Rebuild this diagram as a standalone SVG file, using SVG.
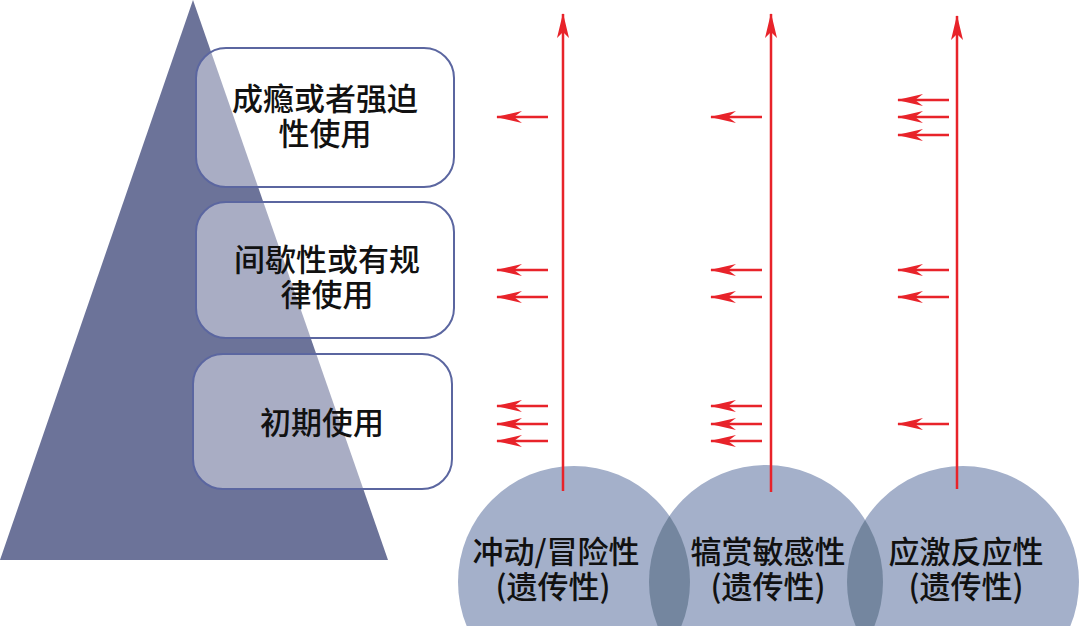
<svg xmlns="http://www.w3.org/2000/svg" width="1080" height="626" viewBox="0 0 1080 626">
<style>
.box{fill:#ffffff;fill-opacity:0.42;stroke:#5b66a0;stroke-width:2}
.circ{fill:#a4b0ca}
.lens{fill:#74869f}
.t{font-family:"Noto Sans CJK SC","Noto Sans",sans-serif;font-size:31px;fill:#111;text-anchor:middle;font-weight:500}
.up{stroke:#e8232a;stroke-width:2.5;fill:none}
.sm{stroke:#e8232a;stroke-width:2.5;fill:none}
</style>
<defs>
<marker id="ah" viewBox="0 0 25 12" refX="24" refY="6" markerWidth="25" markerHeight="12" markerUnits="userSpaceOnUse" orient="auto">
<path d="M0,0 L25,6 L0,12 L6,6 Z" fill="#e8232a"/>
</marker>
<marker id="ahs" viewBox="0 0 26 12" refX="25" refY="6" markerWidth="26" markerHeight="12" markerUnits="userSpaceOnUse" orient="auto">
<path d="M0,0 L26,6 L0,12 L8,6 Z" fill="#e8232a"/>
</marker>
<clipPath id="c1"><circle cx="574" cy="582" r="116"/></clipPath>
<clipPath id="c2"><circle cx="766" cy="582" r="117"/></clipPath>
</defs>
<polygon id="pyramid" points="193,0 388,560 0,560" fill="#6c7399"/>
<g id="box1"><rect class="box" x="196" y="48" width="258" height="139" rx="30"/>
<text class="t" x="325" y="110">成瘾或者强迫</text><text class="t" x="325" y="145">性使用</text></g>
<g id="box2"><rect class="box" x="196" y="202" width="258" height="136" rx="30"/>
<text class="t" x="327" y="271">间歇性或有规</text><text class="t" x="327" y="306">律使用</text></g>
<g id="box3"><rect class="box" x="193" y="354" width="259" height="135" rx="30"/>
<text class="t" x="322" y="434">初期使用</text></g>
<g id="circle1"><circle class="circ" cx="574" cy="582" r="116"/></g>
<g id="circle2"><circle class="circ" cx="766" cy="582" r="117"/></g>
<g id="circle3"><circle class="circ" cx="963" cy="582" r="116"/></g>
<circle class="lens" cx="766" cy="582" r="117" clip-path="url(#c1)"/>
<circle class="lens" cx="963" cy="582" r="116" clip-path="url(#c2)"/>
<g id="labels">
<text class="t" x="556" y="563">冲动/冒险性</text><text class="t" x="553" y="598">(遗传性)</text>
<text class="t" x="768" y="563">犒赏敏感性</text><text class="t" x="768" y="598">(遗传性)</text>
<text class="t" x="966" y="563">应激反应性</text><text class="t" x="966" y="598">(遗传性)</text>
</g>
<g id="connectors">
<line class="up" x1="563" y1="491" x2="563" y2="14" marker-end="url(#ah)"/>
<line class="up" x1="771" y1="492" x2="771" y2="14" marker-end="url(#ah)"/>
<line class="up" x1="957" y1="489" x2="957" y2="16" marker-end="url(#ah)"/>
<line class="sm" x1="548" y1="117" x2="497" y2="117" marker-end="url(#ahs)"/>
<line class="sm" x1="548" y1="270" x2="497" y2="270" marker-end="url(#ahs)"/>
<line class="sm" x1="548" y1="297" x2="497" y2="297" marker-end="url(#ahs)"/>
<line class="sm" x1="548" y1="406" x2="497" y2="406" marker-end="url(#ahs)"/>
<line class="sm" x1="548" y1="424" x2="497" y2="424" marker-end="url(#ahs)"/>
<line class="sm" x1="548" y1="441" x2="497" y2="441" marker-end="url(#ahs)"/>
<line class="sm" x1="762" y1="117" x2="711" y2="117" marker-end="url(#ahs)"/>
<line class="sm" x1="762" y1="270" x2="711" y2="270" marker-end="url(#ahs)"/>
<line class="sm" x1="762" y1="297" x2="711" y2="297" marker-end="url(#ahs)"/>
<line class="sm" x1="762" y1="406" x2="711" y2="406" marker-end="url(#ahs)"/>
<line class="sm" x1="762" y1="424" x2="711" y2="424" marker-end="url(#ahs)"/>
<line class="sm" x1="762" y1="441" x2="711" y2="441" marker-end="url(#ahs)"/>
<line class="sm" x1="949" y1="100" x2="898" y2="100" marker-end="url(#ahs)"/>
<line class="sm" x1="949" y1="117" x2="898" y2="117" marker-end="url(#ahs)"/>
<line class="sm" x1="949" y1="135" x2="898" y2="135" marker-end="url(#ahs)"/>
<line class="sm" x1="949" y1="270" x2="898" y2="270" marker-end="url(#ahs)"/>
<line class="sm" x1="949" y1="297" x2="898" y2="297" marker-end="url(#ahs)"/>
<line class="sm" x1="949" y1="424" x2="898" y2="424" marker-end="url(#ahs)"/>
</g>
</svg>
